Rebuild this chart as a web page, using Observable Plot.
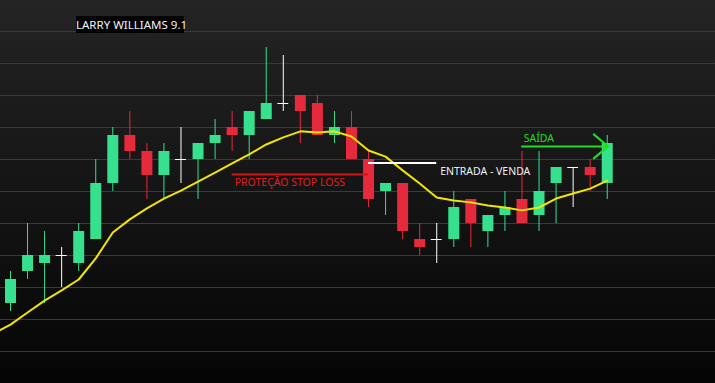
<!DOCTYPE html>
<html><head><meta charset="utf-8">
<script src="https://cdn.jsdelivr.net/npm/d3@7"></script>
<script src="https://cdn.jsdelivr.net/npm/@observablehq/plot@0.6"></script>
<style>
html,body{margin:0;padding:0;background:#000;}
#wrap{position:relative;width:715px;height:383px;background:linear-gradient(#242424,#050505);overflow:hidden;}
#title{position:absolute;left:76px;top:16px;width:108px;height:17px;background:#000;color:#f4f4f4;font-family:"Noto Sans",sans-serif;font-size:11.5px;line-height:17px;text-align:center;z-index:2;white-space:nowrap;}
svg{display:block;position:absolute;left:0;top:0;}
</style></head><body>
<div id="wrap"><div id="title">LARRY WILLIAMS 9.1</div></div>
<script>
// OHLC (candle 1..36)
const opens  = [25,35,37.5,40,37.5,45,62.5,77.5,72.5,65,70,70,75,80,77.5,82.5,87.5,90,87.5,77.5,80,70,60,62.5,45,45,45,57.5,47.5,52.5,57.5,52.5,62.5,67.5,67.5,62.5];
const highs  = [35,50,47.5,42.5,50,70,80,85,75,75,80,75,82.5,85,85,105,102.5,90,90,85,85,72.5,62.5,62.5,50,50,60,57.5,52.5,60,72.5,72.5,67.5,67.5,70,77.5];
const lows   = [22.5,32.5,25,30,35,45,60,70,57.5,57.5,62.5,57.5,70,72.5,70,82.5,85,75,77.5,75,70,55,52.5,45,40,37.5,42.5,42.5,42.5,47.5,50,47.5,50,55,60,57.5];
const closes = [32.5,40,40,40,47.5,62.5,77.5,72.5,65,72.5,70,75,77.5,77.5,85,87.5,87.5,85,77.5,80,70,57.5,62.5,47.5,42.5,45,55,50,52.5,55,50,60,67.5,67.5,65,75];
// moving average (index 0..36)
const ma = [15.6,18.4,22.2,25.9,29.1,32.5,39.1,47.2,51.3,54.7,57.8,60.3,63.1,65.9,68.8,71.6,74.7,76.9,78.8,78.4,78.8,77.2,72.8,70.9,66.6,62.5,58.1,57.2,56.6,55.6,55.0,54.1,55.0,57.8,59.4,60.9,63.4];
const gridLevels = [10,20,30,40,50,60,70,80,90,100,110];
// annotations
const stopLoss = [{x1:14, x2:22, y:65.3}];
const stopLabel = [{x:14.15, y:61.6, text:"PROTEÇÃO STOP LOSS"}];
const entry = [{x1:22, x2:26, y:68.9}];
const entryLabel = [{x:26.2, y:65.3, text:"ENTRADA - VENDA"}];
const exitArrow = [{x1:31, x2:36.05, y:74.1}];
const exitLabel = [{x:31.1, y:75.6, text:"SAÍDA"}];

const GREEN = "#36e08f", RED = "#e52a3e", WHITE = "#ffffff";
const candles = opens.map((o,k)=>({i:k+1, o, h:highs[k], l:lows[k], c:closes[k]}));
const col = d => d.c > d.o ? GREEN : d.c < d.o ? RED : WHITE;
const maPts = ma.map((v,k)=>({i:k, v}));
const font = '"Noto Sans", sans-serif';

const chart = Plot.plot({
  width: 715, height: 383,
  marginTop: 0, marginBottom: 0, marginLeft: 0, marginRight: 0,
  x: {type:"linear", domain:[0.4135, 42.35], axis:null},
  y: {domain:[0, 119.6875], axis:null},
  color: {type:"identity"},
  style: {background:"transparent", overflow:"visible"},
  marks: [
    Plot.ruleY(gridLevels, {stroke:"#3a3a3a", strokeWidth:1}),
    Plot.ruleX(candles, {x:"i", y1:"l", y2:"h", stroke:col, strokeWidth:1}),
    Plot.ruleX(candles.filter(d=>d.c!==d.o), {x:"i", y1:"o", y2:"c", stroke:col, strokeWidth:11}),
    Plot.ruleY(candles.filter(d=>d.c===d.o), {y:"o", x1:d=>d.i-0.32, x2:d=>d.i+0.32, stroke:WHITE, strokeWidth:1}),
    Plot.line(maPts, {x:"i", y:"v", stroke:"#f2e600", strokeWidth:2, curve:"linear", clip:true}),
    Plot.ruleY(stopLoss, {y:"y", x1:"x1", x2:"x2", stroke:"#d41414", strokeWidth:2}),
    Plot.text(stopLabel, {x:"x", y:"y", text:"text", fill:"#e01e1e", textAnchor:"start", lineAnchor:"bottom", fontSize:10.5, fontFamily:font}),
    Plot.ruleY(entry, {y:"y", x1:"x1", x2:"x2", stroke:WHITE, strokeWidth:2}),
    Plot.text(entryLabel, {x:"x", y:"y", text:"text", fill:"#f0f0f0", textAnchor:"start", lineAnchor:"bottom", fontSize:10.5, fontFamily:font}),
    Plot.arrow(exitArrow, {x1:"x1", x2:"x2", y1:"y", y2:"y", stroke:"#22dd22", strokeWidth:2, headLength:14, headAngle:80}),
    Plot.text(exitLabel, {x:"x", y:"y", text:"text", fill:"#22dd22", textAnchor:"start", lineAnchor:"bottom", fontSize:10.5, fontFamily:font})
  ]
});
document.getElementById("wrap").appendChild(chart);
</script>
</body></html>
